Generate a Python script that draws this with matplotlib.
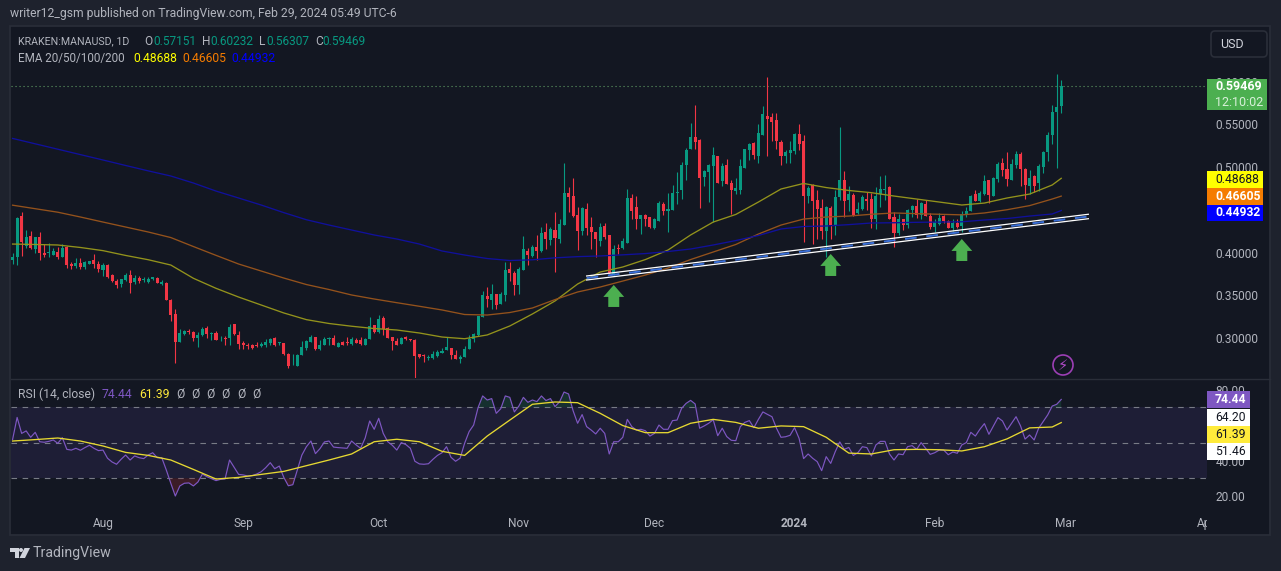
import matplotlib
matplotlib.use("Agg")
import matplotlib.pyplot as plt
import matplotlib.dates as mdates
import numpy as np
import pandas as pd
from matplotlib.patches import Rectangle, Polygon, Ellipse, FancyBboxPatch
from matplotlib.transforms import Bbox, TransformedBbox, IdentityTransform

plt.rcParams['font.family'] = ['Roboto', 'DejaVu Sans']

# daily candles, KRAKEN:MANAUSD
first_day = "2023-07-12"
opens = [
    .3915, .3947, .4429, .4079, .4196, .4040, .4180, .4001, .3993, .3978,
    .4009, .3954, .4063, .3868, .3849, .3884, .3830, .3872, .3915, .3868,
    .3798, .3857, .3736, .3670, .3635, .3681, .3744, .3658, .3705, .3685,
    .3662, .3689, .3705, .3639, .3646, .3452, .3284, .2961, .3051, .3090,
    .3074, .3004, .3035, .3121, .3047, .3066, .2988, .3000, .3004, .3167,
    .3039, .2942, .2922, .2922, .2918, .2914, .2918, .2942, .3000, .2942,
    .2942, .2817, .2801, .2681, .2809, .2887, .2961, .3012, .2872, .2926,
    .2992, .3000, .2903, .2957, .2953, .2930, .2984, .2981, .2926, .2992,
    .3152, .3078, .3238, .3117, .3012, .2973, .2938, .3012, .2988, .2981,
    .2817, .2805, .2774, .2770, .2793, .2828, .2863, .2887, .2805, .2758,
    .2782, .2875, .2988, .3039, .3253, .3495, .3448, .3518, .3405, .3506,
    .3810, .3767, .3623, .3798, .4020, .3958, .4067, .4016, .4242, .4149,
    .4266, .4157, .4324, .4698, .4667, .4441, .4254, .4511, .4301, .4242,
    .4137, .4312, .4207, .3744, .4055, .4055, .4118, .4639, .4534, .4394,
    .4441, .4417, .4293, .4371, .4569, .4488, .4499, .4702, .4733, .5025,
    .5212, .5352, .5317, .4885, .4943, .5013, .5130, .4838, .5025, .4815,
    .4721, .4733, .4990, .5200, .5282, .5130, .5375, .5597, .5586, .5551,
    .5294, .5130, .5165, .5189, .5387, .5305, .4663, .4791, .4616, .4523,
    .4254, .4523, .4320, .4651, .4850, .4616, .4671, .4464, .4511, .4628,
    .4628, .4394, .4686, .4729, .4768, .4417, .4231, .4394, .4324, .4499,
    .4546, .4441, .4569, .4429, .4301, .4336, .4429, .4371, .4285, .4343,
    .4312, .4449, .4491, .4686, .4604, .4686, .4850, .4663, .4861, .5048,
    .4978, .4850, .5025, .5153, .4978, .4780, .4896, .4815, .5002, .5177,
    .5375, .5644, .5715]
highs = [
    .3993, .4413, .4476, .4266, .4258, .4188, .4238, .4098, .4118, .4052,
    .4063, .4098, .4079, .3896, .3935, .3935, .3907, .3907, .3981, .3907,
    .3876, .3865, .3752, .3689, .3697, .3759, .3798, .3744, .3728, .3713,
    .3713, .3720, .3720, .3681, .3654, .3459, .3339, .3105, .3098, .3105,
    .3082, .3074, .3129, .3144, .3078, .3082, .3027, .3027, .3167, .3167,
    .3090, .2973, .2949, .2930, .2961, .2961, .2988, .3004, .3012, .2957,
    .2949, .2825, .2817, .2817, .2973, .2981, .3035, .3019, .2981, .3012,
    .3012, .3035, .2957, .2973, .3012, .3012, .3004, .3012, .3004, .3249,
    .3160, .3269, .3261, .3129, .3019, .3004, .3012, .3027, .2996, .2988,
    .2817, .2813, .2805, .2852, .2863, .2887, .3011, .2887, .2863, .2805,
    .2910, .3039, .3062, .3261, .3553, .3596, .3635, .3518, .3541, .3892,
    .3892, .3791, .3837, .4196, .4051, .4087, .4207, .4301, .4347, .4304,
    .4472, .4390, .5048, .4772, .4873, .4530, .4530, .4585, .4421, .4242,
    .4343, .4343, .4207, .4087, .4098, .4168, .4741, .4686, .4663, .4445,
    .4453, .4417, .4406, .4604, .4593, .4698, .4791, .4943, .5064, .5224,
    .5516, .5726, .5329, .4966, .5037, .5235, .5130, .5048, .5095, .4846,
    .4873, .5095, .5216, .5282, .5290, .5504, .5714, .6049, .5632, .5632,
    .5317, .5200, .5305, .5399, .5504, .5375, .4780, .4803, .4733, .4628,
    .4550, .4546, .4733, .5469, .4955, .4780, .4694, .4593, .4674, .4710,
    .4694, .4772, .4896, .4908, .4780, .4476, .4453, .4394, .4511, .4558,
    .4628, .4597, .4616, .4468, .4394, .4460, .4441, .4383, .4390, .4394,
    .4488, .4538, .4674, .4733, .4721, .4908, .4850, .4885, .5060, .5107,
    .5177, .5095, .5189, .5177, .4986, .4966, .4908, .5037, .5192, .5410,
    .5726, .6088, .6023]
lows = [
    .3865, .3857, .3962, .4052, .4040, .3999, .3915, .3954, .3954, .3970,
    .3931, .3947, .3826, .3806, .3818, .3814, .3814, .3868, .3818, .3775,
    .3728, .3709, .3658, .3588, .3604, .3674, .3534, .3635, .3651, .3662,
    .3651, .3681, .3643, .3623, .3448, .3206, .2708, .2957, .3043, .3047,
    .2965, .2903, .3027, .3004, .2981, .2981, .2973, .2922, .2926, .3039,
    .2879, .2879, .2879, .2879, .2895, .2895, .2903, .2926, .2910, .2918,
    .2809, .2654, .2688, .2677, .2801, .2864, .2957, .2864, .2864, .2918,
    .2926, .2918, .2895, .2918, .2918, .2918, .2942, .2926, .2918, .2988,
    .3066, .3066, .3039, .3000, .2864, .2918, .2934, .2981, .2965, .2533,
    .2770, .2727, .2746, .2762, .2785, .2824, .2860, .2758, .2758, .2711,
    .2782, .2875, .2961, .3027, .3245, .3370, .3347, .3347, .3401, .3440,
    .3674, .3506, .3518, .3798, .3861, .3946, .3915, .4005, .4048, .4087,
    .3775, .4110, .4324, .4476, .4421, .4032, .4207, .4207, .4044, .3954,
    .4079, .4160, .3752, .3740, .3985, .4048, .4118, .4390, .4277, .4219,
    .4312, .4289, .4277, .4371, .4441, .4242, .4499, .4569, .4628, .4850,
    .5212, .5212, .4523, .4780, .4593, .4359, .4815, .4780, .4803, .4453,
    .4686, .4686, .4990, .5083, .5095, .5048, .5375, .5130, .5305, .5212,
    .5025, .5048, .5048, .5153, .5200, .4126, .4581, .4102, .4160, .4160,
    .3946, .4160, .4207, .4616, .4421, .4488, .4429, .4453, .4499, .4499,
    .4285, .4281, .4538, .4616, .4394, .4071, .4207, .4266, .4285, .4421,
    .4402, .4394, .4429, .4277, .4238, .4328, .4351, .4285, .4250, .4285,
    .4238, .4414, .4488, .4600, .4597, .4674, .4585, .4663, .4826, .4896,
    .4780, .4850, .4990, .4780, .4628, .4686, .4710, .4721, .4931, .5072,
    .5270, .4990, .5631]
closes = [
    .3947, .4406, .4126, .4180, .4052, .4180, .3993, .3978, .4009, .4020,
    .3947, .4052, .3857, .3849, .3876, .3830, .3892, .3907, .3868, .3814,
    .3857, .3713, .3670, .3623, .3689, .3736, .3643, .3705, .3670, .3689,
    .3697, .3713, .3651, .3658, .3452, .3273, .2957, .3059, .3082, .3078,
    .3004, .3039, .3109, .3051, .3059, .2981, .2996, .2996, .3132, .3047,
    .2934, .2926, .2914, .2883, .2910, .2934, .2957, .2988, .2926, .2953,
    .2817, .2677, .2805, .2805, .2895, .2969, .3012, .2872, .2922, .2996,
    .3008, .2926, .2946, .2926, .2942, .2996, .2949, .2934, .2992, .3144,
    .3078, .3222, .3109, .3008, .2973, .2926, .3000, .2992, .2981, .2794,
    .2778, .2794, .2782, .2817, .2840, .2856, .2898, .2805, .2758, .2782,
    .2875, .2988, .3050, .3261, .3506, .3460, .3518, .3389, .3518, .3798,
    .3767, .3623, .3810, .4044, .3974, .4067, .4020, .4234, .4160, .4277,
    .4172, .4340, .4698, .4651, .4429, .4254, .4523, .4289, .4242, .4160,
    .4301, .4184, .3759, .4044, .4048, .4137, .4639, .4488, .4394, .4441,
    .4394, .4301, .4394, .4581, .4488, .4511, .4698, .4710, .5025, .5200,
    .5352, .5294, .4873, .4955, .5025, .5142, .4815, .5013, .4803, .4733,
    .4756, .5013, .5212, .5270, .5142, .5399, .5621, .5558, .5527, .5305,
    .5130, .5177, .5200, .5387, .5270, .4663, .4756, .4604, .4511, .4254,
    .4534, .4324, .4651, .4850, .4604, .4686, .4441, .4511, .4651, .4604,
    .4390, .4663, .4741, .4741, .4394, .4231, .4394, .4324, .4499, .4546,
    .4441, .4581, .4429, .4301, .4355, .4402, .4371, .4293, .4347, .4301,
    .4453, .4488, .4663, .4604, .4698, .4838, .4674, .4873, .5037, .4966,
    .4861, .5037, .5153, .4978, .4791, .4873, .4780, .5013, .5177, .5375,
    .5644, .5703, .5947]

# EMAs read every 5 days, plus the last bar
ema50 = [
    .4101, .4096, .4090, .4061, .4024, .3968, .3918, .3856, .3701, .3584,
    .3482, .3389, .3296, .3218, .3173, .3141, .3114, .3097, .3062, .3015,
    .2995, .3039, .3144, .3284, .3436, .3634, .3774, .3833, .3920, .4031,
    .4207, .4358, .4447, .4592, .4744, .4809, .4761, .4727, .4701, .4662,
    .4627, .4592, .4557, .4580, .4639, .4685, .4791, .4869]
ema100 = [
    .4555, .4514, .4473, .4417, .4358, .4300, .4242, .4177, .4072, .3969,
    .3868, .3786, .3704, .3628, .3570, .3506, .3459, .3416, .3374, .3331,
    .3278, .3272, .3301, .3354, .3452, .3541, .3599, .3669, .3739, .3821,
    .3920, .4008, .4096, .4218, .4323, .4393, .4417, .4428, .4449, .4464,
    .4456, .4449, .4442, .4464, .4502, .4550, .4627, .4661]
ema200 = [
    .5335, .5272, .5209, .5146, .5083, .5019, .4956, .4896, .4814, .4720,
    .4639, .4557, .4468, .4385, .4323, .4265, .4207, .4160, .4101, .4020,
    .3973, .3932, .3909, .3917, .3940, .3954, .3962, .3975, .3990, .4014,
    .4043, .4090, .4142, .4201, .4277, .4306, .4312, .4328, .4347, .4350,
    .4355, .4358, .4361, .4382, .4399, .4428, .4452, .4493]

# RSI 14, daily
rsi = [
    51.9, 64.3, 55.3, 56.7, 53.1, 55.9, 50.6, 50.3, 50.8, 51.6,
    49.7, 52.9, 46.3, 45.9, 46.9, 45.8, 47.3, 48.6, 46.9, 45.6,
    45.9, 41.3, 39.2, 37.9, 40.7, 43.1, 40.3, 42.6, 41.6, 41.1,
    43.1, 44.4, 41.6, 41.6, 34.7, 27.2, 20.0, 25.7, 27.2, 27.4,
    25.7, 27.9, 32.4, 30.9, 29.8, 28.7, 29.4, 29.6, 40.3, 36.2,
    32.2, 31.9, 31.3, 31.5, 32.4, 33.7, 36.0, 38.8, 35.4, 36.9,
    30.5, 25.8, 26.4, 34.7, 43.1, 47.8, 51.0, 43.9, 46.7, 50.5,
    51.0, 47.6, 47.3, 47.1, 46.9, 51.0, 48.8, 46.9, 52.7, 62.3,
    57.6, 63.8, 55.3, 50.6, 48.6, 45.9, 50.1, 49.0, 46.9, 39.6,
    38.1, 37.9, 38.2, 40.7, 42.9, 44.4, 47.8, 41.8, 39.6, 41.3,
    49.7, 56.3, 60.0, 70.0, 76.4, 74.1, 74.9, 66.6, 69.2, 76.4,
    75.6, 67.4, 70.7, 75.6, 72.8, 74.1, 73.2, 76.4, 73.8, 74.9,
    70.4, 73.0, 78.6, 77.5, 68.1, 61.0, 65.9, 59.1, 57.2, 55.0,
    58.2, 55.3, 43.7, 50.6, 50.6, 53.1, 63.2, 59.1, 57.2, 57.6,
    56.8, 53.8, 55.3, 60.0, 57.6, 57.6, 62.5, 62.8, 69.4, 72.2,
    73.9, 71.9, 58.2, 59.5, 61.0, 63.0, 54.0, 58.2, 53.5, 51.4,
    51.2, 59.1, 61.5, 62.5, 58.5, 63.2, 67.4, 66.0, 64.7, 58.2,
    53.1, 53.4, 54.2, 58.5, 52.5, 41.1, 43.7, 41.3, 39.4, 34.3,
    42.2, 38.4, 45.0, 50.5, 46.3, 47.4, 42.9, 44.4, 47.8, 47.3,
    42.6, 48.8, 50.8, 50.8, 43.7, 40.3, 43.7, 43.3, 47.8, 48.4,
    46.3, 50.1, 46.9, 43.5, 44.4, 45.9, 45.9, 43.3, 44.8, 44.1,
    48.8, 50.1, 55.9, 53.8, 57.6, 60.8, 54.8, 59.5, 64.2, 62.3,
    57.2, 61.0, 64.7, 59.5, 52.1, 54.4, 51.6, 58.2, 61.9, 65.7,
    70.7, 71.7, 74.44]
# yellow RSI average, same 5 day reading as the EMAs
rsi_ma = [
    51.0, 51.8, 52.7, 51.0, 48.2, 44.6, 42.9, 40.3, 35.0, 29.6,
    30.5, 32.2, 33.9, 37.1, 40.3, 43.7, 50.6, 52.0, 50.6, 45.2,
    42.9, 53.8, 62.8, 71.7, 73.0, 72.6, 66.6, 59.7, 55.7, 55.7,
    61.0, 63.2, 61.5, 58.2, 59.5, 59.1, 53.1, 44.2, 43.7, 46.1,
    46.3, 46.1, 45.4, 47.8, 52.2, 58.4, 58.9, 61.39]

# drawings on the chart
trend_dates = ["2023-11-16", "2024-03-06"]
trend_upper = [.3728, .4449]
trend_lower = [.3681, .4397]
trend_mid = [.3704, .4423]
arrow_dates = ["2023-11-22", "2024-01-09", "2024-02-07"]
arrow_tips = [.3623, .3985, .4160]
arrow_tails = [.3366, .3728, .3903]

# 0.45 and 60.00 sit fully behind the value tags in the reference
price_ticks = [.30, .35, .40, .50, .55, .60]
rsi_ticks = [20, 40, 80]
month_ticks = ["2023-08-01", "2023-09-01", "2023-10-01", "2023-11-01",
               "2023-12-01", "2024-01-01", "2024-02-01", "2024-03-01", "2024-04-01"]
month_labels = ["Aug", "Sep", "Oct", "Nov", "Dec", "2024", "Feb", "Mar", "Apr"]

W, H = 1281, 571
OUTER = "#1e222d"
PANEL = "#131722"
GRID = "#2a2e39"
TXT = "#b2b5be"
UP = "#089981"
DOWN = "#f23645"


def fx(px):
    return px / W


def fy(py):
    return 1 - py / H


def box(ax_rect):
    # left, top, right, bottom in pixels of the picture
    l, t, r, b = ax_rect
    return [fx(l), fy(b), fx(r - l), (b - t) / H]


def label(x, y, s, color=TXT, size=8.6, weight="normal", ha="left", z=6):
    return fig.text(fx(x), fy(y), s, color=color, fontsize=size, fontweight=weight,
                    ha=ha, va="center", zorder=z)


def tag(l, t, r, b, color, s, text_color, weight="normal"):
    fig.add_artist(Rectangle((fx(l), fy(b)), fx(r - l), (b - t) / H, transform=fig.transFigure,
                             facecolor=color, edgecolor="none", zorder=5))
    label(l + 8, (t + b) / 2, s, color=text_color, size=8.7, weight=weight)


fig = plt.figure(figsize=(W / 100, H / 100), dpi=100, facecolor=OUTER)
fig.add_artist(Rectangle((fx(10), fy(535)), fx(1260), 509 / H, transform=fig.transFigure,
                         facecolor=PANEL, edgecolor=GRID, linewidth=1.2, zorder=-1))

ax = fig.add_axes(box((11, 28, 1207, 378)), facecolor="none")
ax2 = fig.add_axes(box((11, 379, 1207, 507)), facecolor="none")

days = mdates.date2num(pd.date_range(first_day, periods=len(closes), freq="D"))
ma_days = mdates.date2num(pd.date_range(first_day, periods=47, freq="5D").append(pd.DatetimeIndex(["2024-02-29"])))
aug1 = mdates.date2num(pd.Timestamp("2023-08-01"))
o, h, l, c = map(np.array, (opens, highs, lows, closes))
colors = np.where(c >= o, UP, DOWN)

# candles
ax.vlines(days, l, h, colors=colors, linewidth=0.8, zorder=3)
ax.bar(days, np.maximum(np.abs(c - o), 0.0009), bottom=np.minimum(o, c), width=0.68, color=colors, linewidth=0, zorder=3)

ax.plot(ma_days, ema50, color="#93931c", linewidth=0.95, zorder=4)
ax.plot(ma_days, ema100, color="#94521c", linewidth=0.95, zorder=4)
ax.plot(ma_days, ema200, color="#10109c", linewidth=0.95, zorder=4)
ax.axhline(closes[-1], color="#5f9e64", linestyle=(0, (1, 2.6)), linewidth=0.8, zorder=2)

# support line, two white edges and a blue dash between
t_days = mdates.date2num(pd.to_datetime(trend_dates))
ax.plot(t_days, trend_upper, color="white", linewidth=0.9, zorder=5)
ax.plot(t_days, trend_lower, color="white", linewidth=0.9, zorder=5)
ax.plot(t_days, trend_mid, color="#3a6fd8", linewidth=1.4, linestyle=(0, (6, 5)), zorder=5)

for d, tip, tail in zip(mdates.date2num(pd.to_datetime(arrow_dates)), arrow_tips, arrow_tails):
    ax.annotate("", xy=(d, tip), xytext=(d, tail), zorder=6,
                arrowprops=dict(facecolor="#4caf50", edgecolor="none", width=7.9, headwidth=15,
                                headlength=8.6, shrink=0))

ax.set_xlim(aug1 + (11 - 103) / 4.52, aug1 + (1207 - 103) / 4.52)
ax.set_ylim(.30 - (378 - 338.3) / 856, .55 + (124.3 - 28) / 856)
ax.yaxis.tick_right()
ax.set_yticks(price_ticks, [f"{v:.5f}" for v in price_ticks])
ax.tick_params(axis="y", length=0, pad=6, labelcolor=TXT, labelsize=8.6)
ax.set_xticks([])
for s in ax.spines.values():
    s.set_visible(False)

# RSI pane
ax2.set_xlim(ax.get_xlim())
ax2.set_ylim(30 - (507 - 478.3) / 1.775, 70 + (407.3 - 379) / 1.775)
ax2.axhspan(30, 70, color="#1e1e36", linewidth=0, zorder=0)
for lev in [70, 50, 30]:
    ax2.axhline(lev, color="#787b86", linewidth=0.8, linestyle=(0, (5, 5)), zorder=1)
rsi_arr = np.array(rsi)
ax2.fill_between(days, rsi_arr, 70, where=rsi_arr > 70, interpolate=True, color="#1f6b4f", alpha=0.3, linewidth=0, zorder=2)
ax2.fill_between(days, rsi_arr, 30, where=rsi_arr < 30, interpolate=True, color="#7a2430", alpha=0.4, linewidth=0, zorder=2)
ax2.plot(days, rsi, color="#7e57c2", linewidth=0.85, zorder=3)
ax2.plot(ma_days, rsi_ma, color="#e6d832", linewidth=0.95, zorder=4)
ax2.yaxis.tick_right()
ax2.set_yticks(rsi_ticks, [f"{v:.2f}" for v in rsi_ticks])
ax2.tick_params(axis="y", length=0, pad=6, labelcolor=TXT, labelsize=8.6)
ax2.set_xticks(mdates.date2num(pd.to_datetime(month_ticks)), month_labels)
ax2.tick_params(axis="x", length=0, pad=7, labelcolor=TXT, labelsize=8.6)
clip = TransformedBbox(Bbox([[0, 0], [fx(1207), 1]]), fig.transFigure)
for t in ax2.get_xticklabels():
    t.set_clip_box(clip)
    t.set_clip_on(True)
    if t.get_text() == "2024":
        t.set_fontweight("bold")
for s in ax2.spines.values():
    s.set_visible(False)
fig.add_artist(plt.Line2D([fx(11), fx(1270)], [fy(378.5)] * 2, transform=fig.transFigure, color=GRID, linewidth=1))

# header and legends
label(10, 14, "writer12_gsm published on TradingView.com, Feb 29, 2024 05:49 UTC-6", color=TXT, size=8.7)
label(18, 41.5, "KRAKEN:MANAUSD, 1D", size=7.7)
for x, s, v, xv in [(144, "O", "0.57151", 153), (202, "H", "0.60232", 210), (259, "L", "0.56307", 266), (315, "C", "0.59469", 322)]:
    label(x, 41.5, s, size=8.6)
    label(xv, 41.5, v, color=UP, size=8.6)
label(18, 58.5, "EMA 20/50/100/200", size=8.4)
label(133, 58.5, "0.48688", color="#ffff00", size=8.7)
label(182, 58.5, "0.46605", color="#f57c00", size=8.7)
label(231, 58.5, "0.44932", color="#0000ff", size=8.7)
label(18, 394, "RSI (14, close)", size=8.7)
label(102, 394, "74.44", color="#7e57c2", size=8.7)
label(139, 394, "61.39", color="#ffeb3b", size=8.7)
for x in [176, 191, 206, 221, 237, 252]:
    label(x, 394, "Ø", size=8.7)

# price tags on the right
tag(1207, 79, 1267, 110, "#4caf50", "", "white")
label(1215, 87, "0.59469", color="white", size=9, weight="bold")
label(1215, 102, "12:10:02", color="#d8f0d9", size=9)
tag(1207, 171, 1263, 188, "#ffff00", "0.48688", "#131722")
tag(1207, 188, 1263, 205, "#f57c00", "0.46605", "white", "bold")
tag(1207, 205, 1263, 221, "#0000ff", "0.44932", "white", "bold")
tag(1207, 391, 1250, 408, "#7e57c2", "74.44", "white", "bold")
tag(1207, 409, 1250, 426, "white", "64.20", "#131722")
tag(1207, 426, 1250, 443, "#ffeb3b", "61.39", "#131722")
tag(1207, 443, 1250, 460, "white", "51.46", "#131722")

# USD button, in picture pixels
fig.add_artist(FancyBboxPatch((1211, H - 57), 56, 26, boxstyle="round,pad=0,rounding_size=4",
                              transform=IdentityTransform(), facecolor=PANEL, edgecolor=GRID, linewidth=1.2, zorder=4))
label(1220, 44, "USD", color="#d1d4dc", size=9)

# lightning badge
fig.add_artist(Ellipse((fx(1063), fy(365)), 20 / W, 20 / H, transform=fig.transFigure,
                       facecolor="none", edgecolor="#9c3fb5", linewidth=1.2, zorder=5))
fig.text(fx(1063), fy(365), "\u26a1", color="#b04bc8", fontsize=10.5, ha="center", va="center",
         family="DejaVu Sans", zorder=5)

# TradingView logo
LOGO = "#d1d4dc"
fig.add_artist(Polygon([(fx(10), fy(548)), (fx(19), fy(548)), (fx(19), fy(558)), (fx(14.5), fy(558)),
                        (fx(14.5), fy(552)), (fx(10), fy(552))], transform=fig.transFigure, facecolor=LOGO, edgecolor="none"))
fig.add_artist(Ellipse((fx(21), fy(550)), 4 / W, 4 / H, transform=fig.transFigure, facecolor=LOGO, edgecolor="none"))
fig.add_artist(Polygon([(fx(24.5), fy(548)), (fx(30), fy(548)), (fx(25), fy(558)), (fx(19.5), fy(558))],
                       transform=fig.transFigure, facecolor=LOGO, edgecolor="none"))
label(33, 553, "TradingView", color=TXT, size=10.2)

fig.savefig("out.png", dpi=100, facecolor=OUTER)
